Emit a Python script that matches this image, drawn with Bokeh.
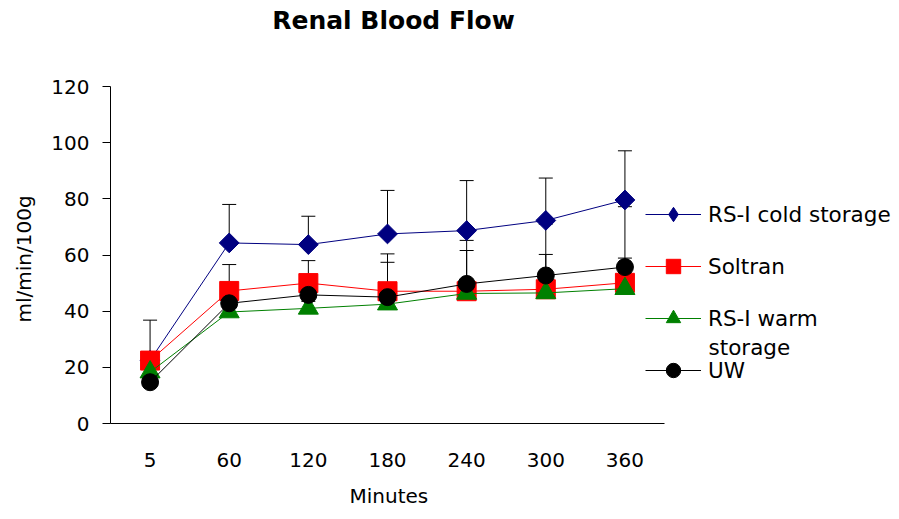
import numpy as np
from bokeh.plotting import figure
from bokeh.models import (Range1d, FixedTicker, ColumnDataSource, Title,
                          Whisker, TeeHead, Legend, LegendItem, Label)
from bokeh.embed import file_html
from bokeh.resources import INLINE

# ---- data ----
minutes = ["5", "60", "120", "180", "240", "300", "360"]
cold = [22.5, 64.3, 63.7, 67.5, 68.7, 72.3, 79.6]
cold_err = [14.3, 13.7, 10.1, 15.5, 17.8, 15.1, 17.5]
soltran = [22.4, 47.2, 50.0, 47.1, 47.1, 47.8, 50.1]
soltran_err = [1.5, 9.4, 8.0, 10.3, 14.5, 12.4, 8.8]
warm = [18.3, 39.7, 41.0, 42.5, 46.3, 46.5, 48.0]
warm_err = [1.5, 2.5, 2.5, 2.5, 2.5, 2.5, 2.5]
uw = [14.7, 42.8, 45.8, 45.0, 49.7, 52.7, 55.7]
uw_err = [2.0, 3.0, 3.0, 15.4, 15.5, 18.3, 21.5]
y_ticks = [0, 20, 40, 60, 80, 100, 120]

FONT = "DejaVu Sans"

# category slots 0..6; the frame also holds the title and legend area,
# while the axes are bounded to the data region
xpos = list(range(len(minutes)))
W, H = 899, 519
AX_L, AX_R, AX_T, AX_B = 110, 664, 86, 423      # plot area in pixels
FR_R = 899                                       # frame right edge
x_end = -0.5 + len(minutes) * (FR_R - AX_L) / (AX_R - AX_L)
y_end = 120 * AX_B / (AX_B - AX_T)

p = figure(x_range=Range1d(-0.5, x_end), y_range=Range1d(0, y_end),
           width=W, height=H, output_backend="svg", toolbar_location=None,
           min_border_left=AX_L, min_border_right=W - FR_R, min_border_top=0,
           min_border_bottom=H - AX_B, outline_line_color=None)
p.xgrid.visible = False
p.ygrid.visible = False

# axes
p.yaxis.ticker = FixedTicker(ticks=y_ticks)
p.yaxis.bounds = (0, 120)
p.yaxis.minor_tick_line_color = None
p.yaxis.major_tick_out = 8
p.yaxis.major_tick_in = 0
p.yaxis.major_tick_line_color = "black"
p.yaxis.major_label_standoff = 13
p.xaxis.ticker = FixedTicker(ticks=xpos)
p.xaxis.major_label_overrides = {i: m for i, m in zip(xpos, minutes)}
p.xaxis.bounds = (-0.5, len(minutes) - 0.5)
p.xaxis.major_tick_line_color = None
p.xaxis.major_tick_out = 0
p.xaxis.major_tick_in = 0
p.xaxis.minor_tick_line_color = None
p.xaxis.major_label_standoff = 29
for ax in (p.xaxis[0], p.yaxis[0]):
    ax.axis_line_color = "black"
    ax.major_label_text_font = FONT
    ax.major_label_text_font_size = "20px"
    ax.major_label_text_color = "black"

# axis titles, centred on the bounded axes
p.add_layout(Title(text="Minutes", text_font=FONT, text_font_size="20px",
                   text_font_style="normal", text_color="black",
                   align="left", offset=239, vertical_align="bottom",
                   standoff=24), "below")
p.add_layout(Title(text="ml/min/100g", text_font=FONT, text_font_size="20px",
                   text_font_style="normal", text_color="black",
                   align="left", offset=101, vertical_align="top",
                   standoff=22), "left")

series = [
    ("RS-I cold storage", cold, cold_err, "#000080", "square", 14, np.pi / 4, "diamond"),
    ("Soltran", soltran, soltran_err, "#FF0000", "square", 19, 0.0, None),
    ("RS-I warm", warm, warm_err, "#008000", "triangle", 20, 0.0, None),
    ("UW", uw, uw_err, "#000000", "circle", 17, 0.0, None),
]

for name, vals, errs, color, marker, size, ang, lmark in series:
    src = ColumnDataSource(dict(x=xpos, y=vals,
                                upper=[v + e for v, e in zip(vals, errs)]))
    p.add_layout(Whisker(source=src, base="x", lower="y", upper="upper",
                         dimension="height", line_color="black", line_width=1,
                         lower_head=None,
                         upper_head=TeeHead(size=14, line_color="black",
                                            line_width=1),
                         level="underlay"))

items = []
for name, vals, errs, color, marker, size, ang, lmark in series:
    src = ColumnDataSource(dict(x=xpos, y=vals, minutes=minutes))
    ln = p.line("x", "y", source=src, line_color=color, line_width=1)
    mk = p.scatter("x", "y", source=src, marker=marker, size=size, angle=ang,
                   fill_color=color, line_color=color)
    rends = [ln, mk]
    if lmark is not None:
        # legend-only glyph (the rotated square does not rotate in legends)
        key = p.scatter(x=[np.nan], y=[np.nan], marker=lmark, size=size,
                        fill_color=color, line_color=color)
        rends = [ln, key]
    items.append(LegendItem(label=name, renderers=rends))

legend = Legend(items=items, location=(645 - AX_L, 35), orientation="vertical",
                background_fill_alpha=0, border_line_color=None,
                padding=0, margin=0, spacing=16,
                glyph_width=56, glyph_height=36, label_height=36,
                label_standoff=7, label_text_font=FONT,
                label_text_font_size="21.5px", label_text_color="black")
p.add_layout(legend)

# second line of the wrapped legend label "RS-I warm storage"
p.add_layout(Label(x=7.056, y=27.06, text="storage", text_font=FONT,
                   text_font_size="21.5px", text_align="left",
                   text_baseline="middle", text_color="black"))

# chart title
p.add_layout(Label(x=3.076, y=143.5, text="Renal Blood Flow", text_font=FONT,
                   text_font_style="bold", text_font_size="25px",
                   text_align="center", text_baseline="middle",
                   text_color="black"))

open("out.html", "w").write(file_html(p, INLINE))
